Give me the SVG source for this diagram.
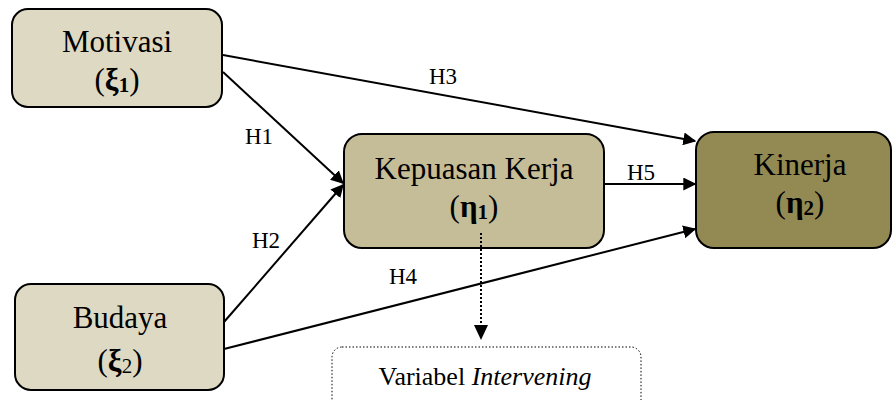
<svg xmlns="http://www.w3.org/2000/svg" width="893" height="400" viewBox="0 0 893 400" font-family="'Liberation Serif', 'Times New Roman', serif">
<defs>
<marker id="ah" viewBox="0 0 10 10" refX="9" refY="5" markerWidth="13" markerHeight="13" markerUnits="userSpaceOnUse" orient="auto"><path d="M0,0 L10,5 L0,10 z" fill="#000"/></marker>
</defs>
<style>
.box{stroke:#000;stroke-width:2}
.t{font-family:'Liberation Serif',serif;font-size:31px;fill:#000;text-anchor:middle}
.g{font-weight:bold}
.s{font-size:21px;font-weight:bold}
.lbl{font-family:'Liberation Serif',serif;font-size:23px;fill:#000;text-anchor:middle}
.c{stroke:#000;stroke-width:2;fill:none;marker-end:url(#ah)}
</style>
<g id="motivasi">
<rect class="box" x="12" y="9" width="210" height="98" rx="16" fill="#ddd9c3"/>
<text class="t" x="117" y="52">Motivasi</text>
<text class="t" x="117" y="90">(<tspan class="g">ξ</tspan><tspan class="s" dy="2">1</tspan><tspan dy="-2">)</tspan></text>
</g>
<g id="budaya">
<rect class="box" x="15" y="284" width="209" height="106" rx="16" fill="#ddd9c3"/>
<text class="t" x="120" y="328">Budaya</text>
<text class="t" x="120" y="371">(<tspan class="g">ξ</tspan><tspan font-size="21px" dy="2">2</tspan><tspan dy="-2">)</tspan></text>
</g>
<g id="kepuasan">
<rect class="box" x="344" y="134" width="260" height="114" rx="18" fill="#c4bd97"/>
<text class="t" x="474" y="179">Kepuasan Kerja</text>
<text class="t" x="474" y="217">(<tspan class="g">η</tspan><tspan class="s" dy="2">1</tspan><tspan dy="-2">)</tspan></text>
</g>
<g id="kinerja">
<rect class="box" x="696" y="132" width="195" height="116" rx="18" fill="#938953"/>
<text class="t" x="800" y="175">Kinerja</text>
<text class="t" x="800" y="213">(<tspan class="g">η</tspan><tspan class="s" dy="2">2</tspan><tspan dy="-2">)</tspan></text>
</g>
<g id="intervening">
<rect x="332" y="347" width="309" height="70" rx="10" fill="none" stroke="#000" stroke-width="1" stroke-dasharray="1.5,2"/>
<text class="lbl" x="485" y="385" style="font-size:26px">Variabel <tspan font-style="italic">Intervening</tspan></text>
</g>
<g id="connectors">
<line class="c" x1="223" y1="55" x2="695" y2="141"/>
<line class="c" x1="223" y1="72" x2="343" y2="183"/>
<line class="c" x1="224" y1="322" x2="343" y2="185"/>
<line class="c" x1="224" y1="349" x2="695" y2="229"/>
<line class="c" x1="604" y1="184" x2="695" y2="184"/>
<line x1="481" y1="233" x2="481" y2="328" stroke="#000" stroke-width="2" stroke-dasharray="2,2"/>
<path d="M474,325 L488,325 L481,340 z" fill="#000"/>
<text class="lbl" x="443" y="84">H3</text>
<text class="lbl" x="259" y="144">H1</text>
<text class="lbl" x="266" y="248">H2</text>
<text class="lbl" x="403" y="284">H4</text>
<text class="lbl" x="641" y="180">H5</text>
</g>
</svg>
